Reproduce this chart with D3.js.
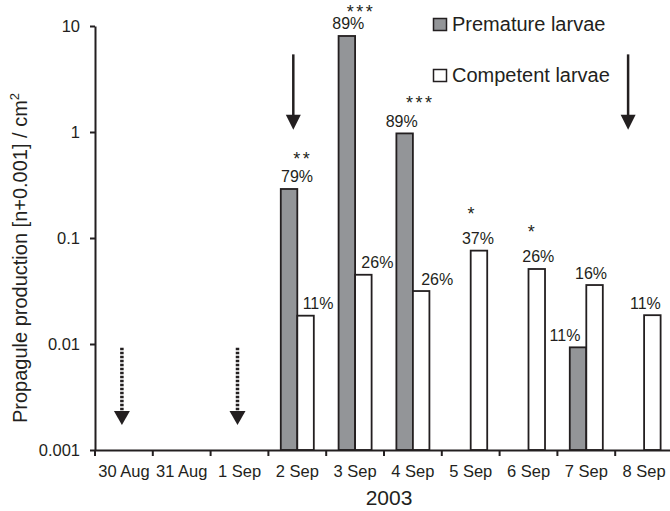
<!DOCTYPE html>
<html lang="en">
<head>
    <meta charset="UTF-8">
    <title>Propagule production</title>
    <script src="https://d3js.org/d3.v7.min.js"></script>
    <style>
        body { margin: 0; background: #fff; }
        svg { display: block; font-family: "Liberation Sans", Arial, sans-serif; }
        .axis path, .axis line { stroke: #231f20; stroke-width: 2; fill: none; }
        .axis text { fill: #231f20; }
        .bar { stroke: #231f20; stroke-width: 1.8; }
    </style>
</head>
<body>
    <div id="chart"></div>

    <script>
        // categories (x axis)
        const dates = ["30 Aug", "31 Aug", "1 Sep", "2 Sep", "3 Sep", "4 Sep", "5 Sep", "6 Sep", "7 Sep", "8 Sep"];
        const yTicks = [0.001, 0.01, 0.1, 1, 10];

        // plotted values, n + 0.001 per cm2
        const premature = [0.001, 0.001, 0.001, 0.29, 8.05, 0.97, 0.001, 0.001, 0.0093, 0.001];
        const competent = [0.001, 0.001, 0.001, 0.0185, 0.045, 0.0316, 0.076, 0.051, 0.036, 0.0187];

        // labels above bars
        const prematurePct = ["", "", "", "79%", "89%", "89%", "", "", "11%", ""];
        const competentPct = ["", "", "", "11%", "26%", "26%", "37%", "26%", "16%", "11%"];
        const prematureStars = ["", "", "", "**", "***", "***", "", "", "", ""];
        const competentStars = ["", "", "", "", "", "", "*", "*", "", ""];

        // sampling arrows: date, top value, tip value, dotted?
        const arrowDates = ["30 Aug", "1 Sep", "2 Sep", "8 Sep"];
        const arrowTop = [0.0092, 0.0092, 5.4, 5.4];
        const arrowTip = [0.00172, 0.00172, 1.05, 1.05];
        const arrowDotted = [true, true, false, false];

        // small hand placement tweaks for annotations (px)
        const arrowDx = [-2, -2, -4, -16];
        const premPctDx = [0, 0, 0, 8, 1.5, -3, 0, 0, -13, 0];
        const compPctDx = [0, 0, 0, 12.5, 14, 16, -1, 1.5, -3.5, -7];
        const premStarDx = [0, 0, 0, 12.5, 13, 14.5, 0, 0, 0, 0];
        const compStarDx = [0, 0, 0, 0, 0, 0, -8, -5.5, 0, 0];

        const W = 670, H = 511;
        const mLeft = 95, mTop = 26, mBottom = 450, mRight = 673;
        const ink = "#231f20";

        const svg = d3.select("#chart").append("svg")
            .attr("width", W)
            .attr("height", H);

        const x = d3.scaleBand().domain(dates).range([mLeft, mRight]).padding(0);
        const sub = d3.scaleBand().domain(["prem", "comp"]).range([0, x.bandwidth()])
            .paddingInner(0).paddingOuter(0.75);
        const y = d3.scaleLog().domain([0.001, 10]).range([mBottom, mTop]);

        // one entry per bar
        const bars = [];
        dates.forEach((d, i) => {
            bars.push({ date: d, key: "prem", v: premature[i], pct: prematurePct[i], stars: prematureStars[i], pdx: premPctDx[i], sdx: premStarDx[i] });
            bars.push({ date: d, key: "comp", v: competent[i], pct: competentPct[i], stars: competentStars[i], pdx: compPctDx[i], sdx: compStarDx[i] });
        });

        svg.selectAll(".bar")
            .data(bars.filter(b => b.v > 0.001))
            .enter().append("rect")
            .attr("class", "bar")
            .attr("x", d => x(d.date) + sub(d.key))
            .attr("y", d => y(d.v))
            .attr("width", sub.bandwidth())
            .attr("height", d => y(0.001) - y(d.v))
            .attr("fill", d => d.key === "prem" ? "#939598" : "#ffffff");

        const barCenter = d => x(d.date) + sub(d.key) + sub.bandwidth() / 2;

        svg.selectAll(".pct")
            .data(bars.filter(b => b.pct))
            .enter().append("text")
            .attr("class", "pct")
            .attr("x", d => barCenter(d) + d.pdx)
            .attr("y", d => y(d.v) - 6.5)
            .attr("text-anchor", "middle")
            .attr("font-size", 16)
            .attr("fill", ink)
            .text(d => d.pct);

        svg.selectAll(".stars")
            .data(bars.filter(b => b.stars))
            .enter().append("text")
            .attr("class", "stars")
            .attr("x", d => barCenter(d) + d.sdx + 1.2)
            .attr("y", d => Math.max(18, y(d.v) - 6.5 - (d.stars.length === 1 ? 24.5 : 17.5)))
            .attr("text-anchor", "middle")
            .attr("font-size", 18)
            .attr("letter-spacing", 2.5)
            .attr("fill", ink)
            .text(d => d.stars);

        // axes
        const yAxis = d3.axisLeft(y)
            .tickValues(yTicks)
            .tickFormat(d => String(d))
            .tickSize(5)
            .tickSizeOuter(0)
            .tickPadding(10);

        const gy = svg.append("g")
            .attr("class", "axis")
            .attr("transform", `translate(${mLeft},0)`)
            .call(yAxis)
            .attr("font-family", null)
            .attr("font-size", 16.5);

        const xAxis = d3.axisBottom(x).tickSize(0).tickSizeOuter(0).tickPadding(0);
        const gx = svg.append("g")
            .attr("class", "axis")
            .attr("transform", `translate(0,${mBottom})`)
            .call(xAxis)
            .attr("font-family", null)
            .attr("font-size", 16.5);
        gx.select(".domain").attr("d", `M${mLeft},0.5H${W}`);
        gx.selectAll("text")
            .attr("y", 27)
            .attr("dy", null);

        // ticks on band boundaries
        gx.selectAll(".bound")
            .data(dates)
            .enter().append("line")
            .attr("class", "bound")
            .attr("x1", d => x(d))
            .attr("x2", d => x(d))
            .attr("y1", 0)
            .attr("y2", 6);

        // axis titles
        svg.append("text")
            .attr("x", (mLeft + mRight) / 2 + 5)
            .attr("y", 505)
            .attr("text-anchor", "middle")
            .attr("font-size", 21)
            .attr("fill", ink)
            .text("2003");

        const yt = svg.append("text")
            .attr("transform", `translate(27,${(mTop + mBottom) / 2 + 20}) rotate(-90)`)
            .attr("text-anchor", "middle")
            .attr("font-size", 20)
            .attr("fill", ink);
        yt.append("tspan").text("Propagule production [n+0.001] / cm");
        yt.append("tspan").attr("font-size", 13).attr("dy", -8).text("2");

        // arrows
        const arrows = arrowDates.map((d, i) => ({
            date: d, top: arrowTop[i], tip: arrowTip[i], dotted: arrowDotted[i], dx: arrowDx[i]
        }));
        const ag = svg.selectAll(".arrow")
            .data(arrows)
            .enter().append("g")
            .attr("class", "arrow");
        ag.append("line")
            .attr("x1", d => x(d.date) + x.bandwidth() / 2 + d.dx)
            .attr("x2", d => x(d.date) + x.bandwidth() / 2 + d.dx)
            .attr("y1", d => y(d.top))
            .attr("y2", d => y(d.tip) - 12)
            .attr("stroke", ink)
            .attr("stroke-width", d => d.dotted ? 3.5 : 2.5)
            .attr("stroke-dasharray", d => d.dotted ? "2.5,1.5" : null);
        ag.append("path")
            .attr("d", d => {
                const cx = x(d.date) + x.bandwidth() / 2 + d.dx;
                const ty = y(d.tip);
                const hw = d.dotted ? 8 : 7.5, hh = d.dotted ? 14 : 15;
                return `M${cx - hw},${ty - hh}L${cx + hw},${ty - hh}L${cx},${ty}Z`;
            })
            .attr("fill", ink);

        // legend
        const legendItems = [
            { label: "Premature larvae", fill: "#939598" },
            { label: "Competent larvae", fill: "#ffffff" }
        ];
        const lg = svg.selectAll(".legend")
            .data(legendItems)
            .enter().append("g")
            .attr("class", "legend")
            .attr("transform", (d, i) => `translate(433,${31 + i * 51})`);
        lg.append("rect")
            .attr("x", 0.5).attr("y", -12.5)
            .attr("width", 13).attr("height", 12)
            .attr("fill", d => d.fill)
            .attr("stroke", ink)
            .attr("stroke-width", 1.5);
        lg.append("text")
            .attr("x", 19)
            .attr("y", 0)
            .attr("font-size", 20)
            .attr("fill", ink)
            .text(d => d.label);
    </script>
</body>
</html>
